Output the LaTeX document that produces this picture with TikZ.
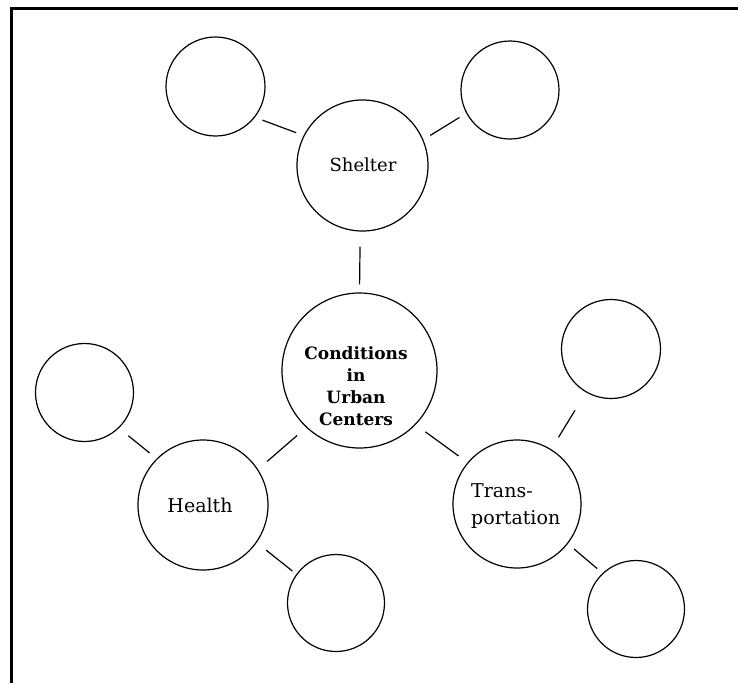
\documentclass[tikz,border=0pt]{standalone}
\usepackage{fontspec}
\setmainfont{DejaVu Serif}
\begin{document}
\begin{tikzpicture}[x=1pt,y=-1pt,
  bub/.style={circle,draw,line width=1.2pt,inner sep=0pt,minimum size=#1},
  link/.style={line width=1.2pt},
  lbl/.style={inner sep=0pt,font=\fontsize{19}{27}\selectfont},
  blbl/.style={inner sep=0pt,align=center,font=\bfseries\fontsize{17}{22}\selectfont}]
\useasboundingbox (0,0) rectangle (738,683);
\draw[line width=3pt] (738,8.5) -- (11,8.5) -- (11,683);
% circles
\node[bub=99]  (tl)      at (215.5,86.5) {};
\node[bub=98]  (tr)      at (510,90) {};
\node[bub=131] (shelter) at (362.5,165.5) {};
\node[bub=155] (center)  at (359.5,370.5) {};
\node[bub=98]  (hl)      at (84.5,392.5) {};
\node[bub=130] (health)  at (203,505) {};
\node[bub=97]  (hb)      at (336,603) {};
\node[bub=128] (trans)   at (517,504) {};
\node[bub=99]  (trt)     at (611,349) {};
\node[bub=97]  (trb)     at (636,609) {};
% labels
\node[lbl,font=\fontsize{18}{27}\selectfont] (shelterlbl) at (363,165) {Shelter};
\node[lbl] (healthlbl) at (200,505) {Health};
\node[lbl,align=left,anchor=west] (translbl) at (471,506) {Trans-\\portation};
\node[blbl] (centerlbl) at (356,386) {Conditions\\in\\Urban\\Centers};
% connectors
\draw[link,shorten <=8pt,shorten >=8pt] (tl.-38) -- (shelter.153);
\draw[link,shorten <=8pt,shorten >=8pt] (tr.-152) -- (shelter.23);
\draw[link,shorten <=15pt,shorten >=8pt] (shelter.-92) -- (center.90);
\draw[link,shorten <=12pt,shorten >=12pt] (center.-133) -- (health.33);
\draw[link,shorten <=12pt,shorten >=11pt] (center.-44) -- (trans.140);
\draw[link,shorten <=12pt,shorten >=9pt] (hl.-46) -- (health.135);
\draw[link,shorten <=12pt,shorten >=5pt] (health.-35) -- (hb.144);
\draw[link,shorten <=21pt,shorten >=14pt] (trt.-120) -- (trans.58);
\draw[link,shorten <=8pt,shorten >=7pt] (trans.-38) -- (trb.133);
\end{tikzpicture}
\end{document}
